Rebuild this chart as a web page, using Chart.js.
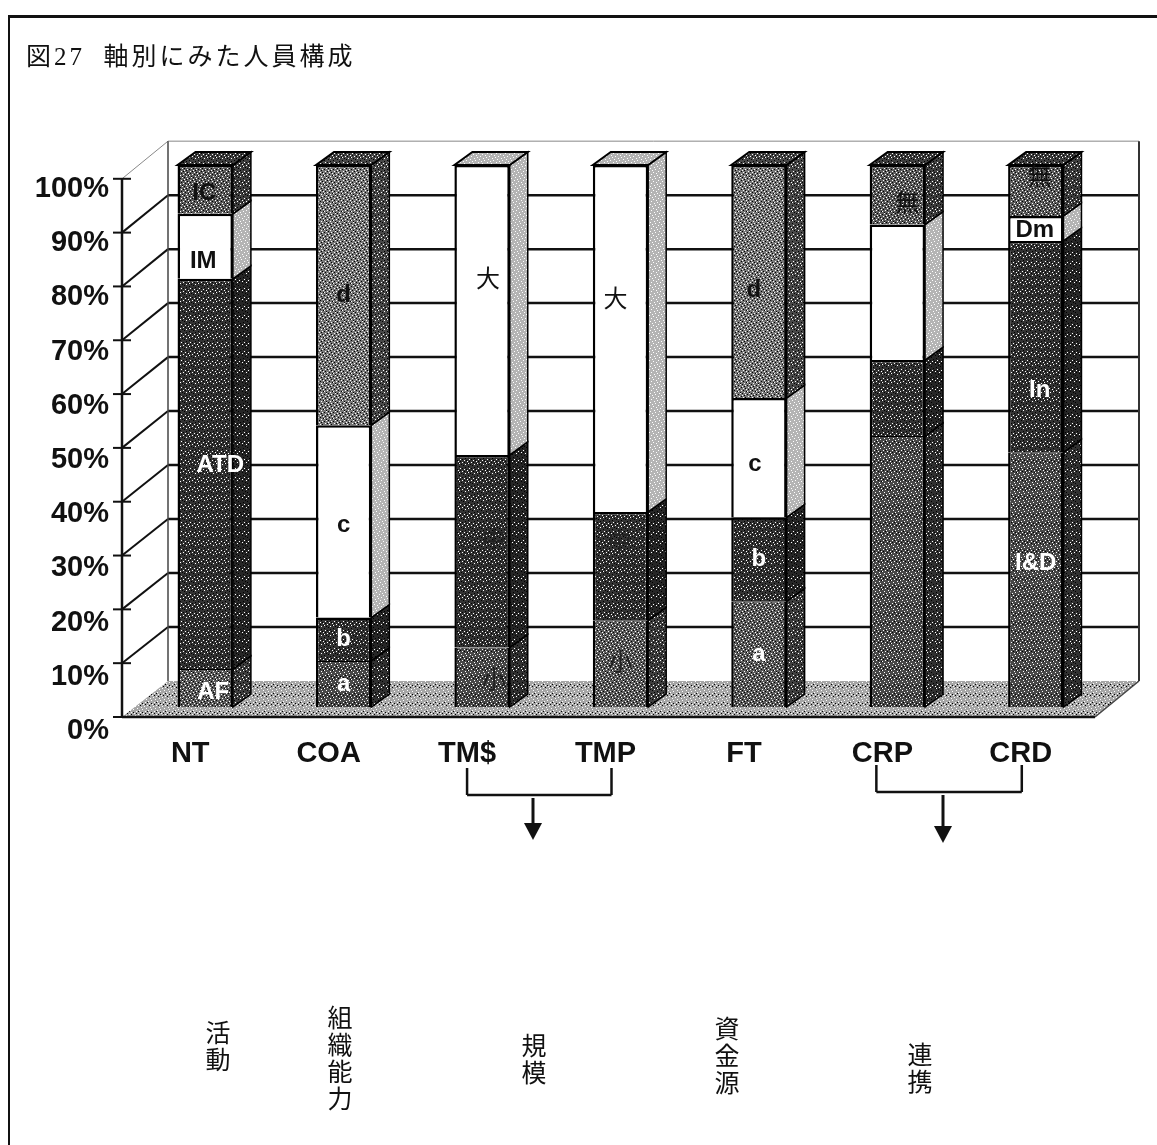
<!DOCTYPE html>
<html lang="ja">
<head>
<meta charset="utf-8">
<title>図27 軸別にみた人員構成</title>
<script src="https://cdn.jsdelivr.net/npm/chart.js@4"></script>
<style>
    html, body { margin: 0; padding: 0; background: #fff; }
    #page { position: relative; width: 1157px; height: 1145px; overflow: hidden; }
    #grafica { position: absolute; left: 0; top: 0; }
    #marcoTop { position: absolute; left: 8px; right: 0; top: 15px; height: 3px; background: #111; }
    #marcoLeft { position: absolute; left: 8px; top: 15px; bottom: 0; width: 2px; background: #111; }
    #titulo { position: absolute; left: 26px; top: 36px; font: 25px "Liberation Serif", "Noto Sans CJK JP", serif; letter-spacing: 3px; color: #111; white-space: pre; }
    .grupo { position: absolute; writing-mode: vertical-rl; text-orientation: upright; font: 25px/28px "Noto Sans CJK JP", sans-serif; letter-spacing: 2px; color: #111; transform: translateX(-50%); }
</style>
</head>
<body>
<div id="page">
    <canvas id="grafica" width="1157" height="1145"></canvas>
    <div id="marcoTop"></div>
    <div id="marcoLeft"></div>
    <div id="titulo"></div>
</div>
<script>
const titulo = '図27  軸別にみた人員構成';
const categorias = ['NT', 'COA', 'TM$', 'TMP', 'FT', 'CRP', 'CRD'];
const yTickLabels = ['0%', '10%', '20%', '30%', '40%', '50%', '60%', '70%', '80%', '90%', '100%'];

// valores de abajo hacia arriba
const nivel1 = [7, 8.5, 11, 16, 19.5, 50, 47];
const nivel2 = [72, 8, 35.5, 20, 15.5, 14, 39];
const nivel3 = [12, 35.5, 53.5, 64, 22, 25, 4.6];
const nivel4 = [9, 48, null, null, 43, 11, 9.4];

const textos1 = ['AF', 'a', '小', '小', 'a', '', 'I&D'];
const textos2 = ['ATD', 'b', '中', '中', 'b', '', 'In'];
const textos3 = ['IM', 'c', '大', '大', 'c', '', 'Dm'];
const textos4 = ['IC', 'd', '', '', 'd', '無', '無'];

const grupos = ['活動', '組織能力', '規模', '資金源', '連携'];

// tonos de cada segmento
const tonos1 = ['medio', 'medioOscuro', 'medioOscuro', 'medio', 'medio', 'medioOscuro', 'medioOscuro'];
const tonos2 = ['oscuro', 'oscuro', 'oscuro', 'oscuro', 'oscuro', 'oscuro', 'oscuro'];
const tonos3 = ['blanco', 'blanco', 'blanco', 'blanco', 'blanco', 'blanco', 'blanco'];
const tonos4 = ['medio', 'claro', null, null, 'claro', 'medio', 'medio'];

// color de cada texto
const colores1 = ['#fff', '#fff', '#222', '#222', '#fff', '#fff', '#fff'];
const colores2 = ['#fff', '#fff', '#222', '#222', '#fff', '#fff', '#fff'];
const colores3 = ['#111', '#111', '#111', '#111', '#111', '#111', '#111'];
const colores4 = ['#111', '#111', '#111', '#111', '#111', '#111', '#111'];

// puntos del tramado, repetidos en cada textura
const motasBlancas = [[1, 0], [5, 1], [8, 2], [3, 3], [0, 4], [6, 5], [2, 6], [7, 7], [4, 8]];
const motasNegras = [[3, 0], [7, 1], [1, 2], [5, 3], [8, 4], [2, 5], [4, 6], [0, 7], [6, 8]];

function crearTextura(base, blancas, negras) {
    const c = document.createElement('canvas');
    c.width = 9;
    c.height = 9;
    const g = c.getContext('2d');
    g.fillStyle = base;
    g.fillRect(0, 0, 9, 9);
    g.fillStyle = '#fff';
    blancas.forEach(p => g.fillRect(p[0], p[1], 1, 1));
    g.fillStyle = '#000';
    negras.forEach(p => g.fillRect(p[0], p[1], 1, 1));
    return g.createPattern(c, 'repeat');
}

const texturas = {
    blanco: '#fff',
    claro: crearTextura('#777', motasBlancas, motasNegras),
    medio: crearTextura('#5c5c5c', motasBlancas, motasNegras),
    medioOscuro: crearTextura('#484848', motasBlancas, motasNegras.slice(0, 5)),
    oscuro: crearTextura('#333', motasBlancas.slice(0, 6), motasNegras)
};
const texturasLado = {
    blanco: crearTextura('#b4b4b4', motasBlancas, []),
    claro: crearTextura('#484848', motasBlancas.slice(0, 6), motasNegras),
    medio: crearTextura('#3e3e3e', motasBlancas.slice(0, 6), motasNegras),
    medioOscuro: crearTextura('#303030', motasBlancas.slice(0, 5), motasNegras),
    oscuro: crearTextura('#262626', motasBlancas.slice(0, 4), motasNegras)
};
const texturaSuelo = crearTextura('#a6a6a6', motasBlancas, motasNegras.slice(0, 4));

const niveles = [
    { datos: nivel1, tonos: tonos1, textos: textos1, colores: colores1 },
    { datos: nivel2, tonos: tonos2, textos: textos2, colores: colores2 },
    { datos: nivel3, tonos: tonos3, textos: textos3, colores: colores3 },
    { datos: nivel4, tonos: tonos4, textos: textos4, colores: colores4 }
];

// ajustes de los textos respecto al centro del segmento [dx, dy]
const ajusteTexto = {
    'NT-0': [8, 4], 'NT-1': [15, -9], 'NT-2': [-2, 15], 'NT-3': [-1, 4],
    'COA-2': [0, 4],
    'TM$-0': [12, 4], 'TM$-1': [12, -10], 'TM$-2': [6, -30],
    'TMP-1': [-1, -23], 'TMP-2': [-5, -38],
    'FT-2': [-4, 7], 'FT-3': [-5, 9],
    'CRP-3': [10, 10],
    'CRD-3': [4, -12], 'CRD-2': [-1, 2], 'CRD-1': [4, 44], 'CRD-0': [0, -16]
};

const PROF_X = 18;
const PROF_Y = 13;

function poligono(ctx, puntos, relleno, borde, grosor) {
    ctx.beginPath();
    puntos.forEach((p, i) => (i ? ctx.lineTo(p[0], p[1]) : ctx.moveTo(p[0], p[1])));
    ctx.closePath();
    if (relleno) {
        ctx.fillStyle = relleno;
        ctx.fill();
    }
    if (borde) {
        ctx.strokeStyle = borde;
        ctx.lineWidth = grosor;
        ctx.stroke();
    }
}

function linea(ctx, x1, y1, x2, y2, grosor, color) {
    ctx.beginPath();
    ctx.moveTo(x1, y1);
    ctx.lineTo(x2, y2);
    ctx.lineWidth = grosor;
    ctx.strokeStyle = color || '#111';
    ctx.stroke();
}

const fondo3d = {
    id: 'fondo3d',
    beforeDatasetsDraw(chart) {
        const ctx = chart.ctx;
        const area = chart.chartArea;
        const escalaY = chart.scales.y;
        const base = escalaY.getPixelForValue(0);
        const yPared = y => base - 26 + (y - base) * 0.996;
        const yFrente = y => base + 10 + (y - base) * 0.993;
        const xEje = area.left - 14;
        const xPared = area.left + 32;
        const xDer = area.right + 34;
        const xFrenteDer = area.right - 10;

        ctx.save();
        poligono(ctx, [[xEje, yFrente(base)], [xPared, yPared(base)], [xDer, yPared(base)], [xFrenteDer, yFrente(base)]], texturaSuelo);
        linea(ctx, xEje, yFrente(base), xFrenteDer, yFrente(base), 2.5);
        linea(ctx, xFrenteDer, yFrente(base), xDer, yPared(base), 1.5, '#444');

        yTickLabels.forEach((t, i) => {
            const y = escalaY.getPixelForValue(i * 10);
            if (i > 0 && i < 10) {
                linea(ctx, xPared, yPared(y), xDer, yPared(y), 2.5);
            }
            if (i > 0) {
                linea(ctx, xEje, yFrente(y), xPared, yPared(y), i === 10 ? 1 : 2, i === 10 ? '#888' : '#111');
            }
            linea(ctx, xEje - 9, yFrente(y), xEje + 9, yFrente(y), 2);
        });

        const arriba = yPared(escalaY.getPixelForValue(100));
        linea(ctx, xPared, arriba, xDer, arriba, 1, '#888');
        linea(ctx, xPared, arriba, xPared, yPared(base), 1.5, '#444');
        linea(ctx, xDer, arriba, xDer, yPared(base), 2, '#333');
        linea(ctx, xEje, yFrente(escalaY.getPixelForValue(100)), xEje, yFrente(base), 2.5);

        // caras laterales y superior de cada columna
        niveles.forEach((nivel, n) => {
            chart.getDatasetMeta(n).data.forEach((el, i) => {
                if (nivel.datos[i] === null) return;
                const der = el.x + el.width / 2;
                const izq = el.x - el.width / 2;
                poligono(ctx, [[der, el.y], [der + PROF_X, el.y - PROF_Y], [der + PROF_X, el.base - PROF_Y], [der, el.base]], texturasLado[nivel.tonos[i]], '#000', 1.5);
                const esUltimo = n === 3 || niveles[n + 1].datos[i] === null;
                if (esUltimo) {
                    poligono(ctx, [[izq, el.y], [izq + PROF_X, el.y - PROF_Y], [der + PROF_X, el.y - PROF_Y], [der, el.y]], texturasLado[nivel.tonos[i]], '#000', 2);
                }
            });
        });
        ctx.restore();
    },
    afterDatasetsDraw(chart) {
        const ctx = chart.ctx;
        ctx.save();
        ctx.textAlign = 'center';
        ctx.textBaseline = 'middle';
        niveles.forEach((nivel, n) => {
            chart.getDatasetMeta(n).data.forEach((el, i) => {
                const texto = nivel.textos[i];
                if (!texto) return;
                const ajuste = ajusteTexto[categorias[i] + '-' + n] || [0, 0];
                // los textos japoneses van sin negrita
                const japones = /[^\x00-\x7f]/.test(texto);
                ctx.font = (japones ? '' : 'bold ') + '24px "Liberation Sans", "Noto Sans CJK JP", sans-serif';
                ctx.fillStyle = nivel.colores[i];
                ctx.fillText(texto, el.x + ajuste[0], (el.y + el.base) / 2 + ajuste[1]);
            });
        });
        ctx.restore();

        // corchetes y flechas bajo las etiquetas
        const x = chart.scales.x;
        const base = chart.scales.y.getPixelForValue(0);
        ctx.save();
        corchete(ctx, x.getPixelForValue(2) - 15, x.getPixelForValue(3) - 9, base + 61, base + 88, 533, base + 133);
        corchete(ctx, x.getPixelForValue(5) - 21, x.getPixelForValue(6) - 14, base + 58, base + 85, 943, base + 136);
        ctx.restore();
    }
};

function corchete(ctx, x1, x2, yArriba, yAbajo, xFlecha, yPunta) {
    linea(ctx, x1, yArriba, x1, yAbajo, 2.5);
    linea(ctx, x1, yAbajo, x2, yAbajo, 2.5);
    linea(ctx, x2, yArriba, x2, yAbajo, 2.5);
    linea(ctx, xFlecha, yAbajo + 3, xFlecha, yPunta - 10, 3);
    poligono(ctx, [[xFlecha - 9, yPunta - 17], [xFlecha + 9, yPunta - 17], [xFlecha, yPunta]], '#111');
}

// la union entre los dos niveles oscuros casi no se ve
function bordesNivel(n) {
    return { left: 2.5, right: 2.5, top: n === 0 ? 1 : 2.5, bottom: n === 1 ? 1 : 2.5 };
}

function inicializar() {
    document.getElementById('titulo').textContent = titulo;

    const page = document.getElementById('page');
    const posGrupos = [[218, 1020], [340, 1005], [534, 1033], [727, 1016], [920, 1042]];
    grupos.forEach((g, i) => {
        const div = document.createElement('div');
        div.className = 'grupo';
        div.textContent = g;
        div.style.left = posGrupos[i][0] + 'px';
        div.style.top = posGrupos[i][1] + 'px';
        page.appendChild(div);
    });

    const fuenteEjes = { family: '"Liberation Sans", sans-serif', size: 29, weight: 'bold' };

    new Chart(document.getElementById('grafica').getContext('2d'), {
        type: 'bar',
        data: {
            labels: categorias,
            datasets: niveles.map((nivel, n) => ({
                label: 'nivel' + (n + 1),
                data: nivel.datos,
                backgroundColor: nivel.tonos.map(t => texturas[t] || '#fff'),
                borderColor: '#000',
                borderWidth: bordesNivel(n),
                barPercentage: 0.4,
                categoryPercentage: 1
            }))
        },
        options: {
            responsive: false,
            animation: false,
            layout: { padding: { top: 165, right: 52, left: 0, bottom: 0 } },
            plugins: { legend: { display: false }, tooltip: { enabled: false }, title: { display: false } },
            scales: {
                x: {
                    stacked: true,
                    grid: { display: false, drawTicks: false },
                    border: { display: false },
                    afterFit: s => { s.height = 438; },
                    ticks: { font: fuenteEjes, color: '#111', padding: 30, labelOffset: -15, maxRotation: 0, autoSkip: false }
                },
                y: {
                    stacked: true,
                    min: 0,
                    max: 100,
                    grid: { display: false, drawTicks: false },
                    border: { display: false },
                    afterFit: s => { s.width = 136; },
                    ticks: {
                        stepSize: 10,
                        font: fuenteEjes,
                        color: '#111',
                        padding: 27,
                        labelOffset: 24,
                        callback: (v) => yTickLabels[v / 10]
                    }
                }
            }
        },
        plugins: [fondo3d]
    });
}

document.addEventListener('DOMContentLoaded', (event) => {
    inicializar();
});
</script>
</body>
</html>
